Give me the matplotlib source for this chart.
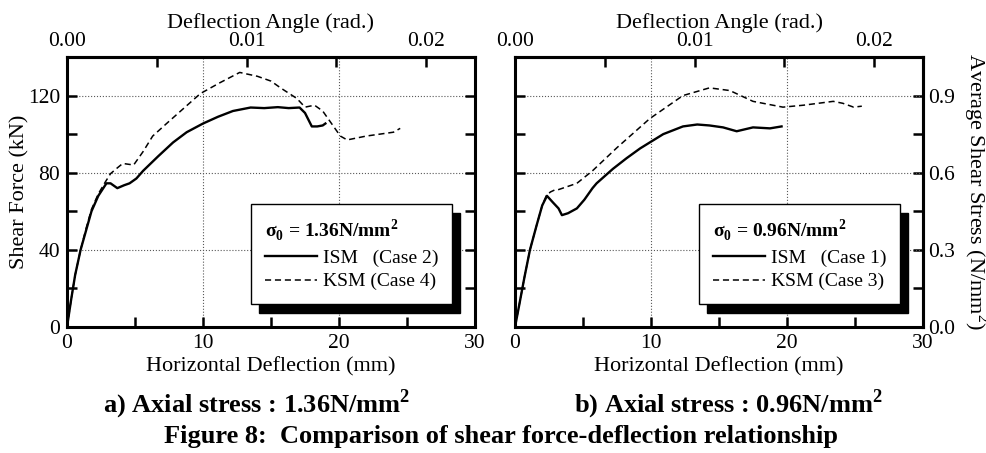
import matplotlib
matplotlib.use("Agg")
import matplotlib.pyplot as plt
from matplotlib.ticker import MultipleLocator, FormatStrFormatter, FixedLocator

plt.rcParams['font.family'] = ['Liberation Serif', 'DejaVu Serif']
plt.rcParams['mathtext.fontset'] = 'custom'
plt.rcParams['mathtext.rm'] = 'Liberation Serif'
plt.rcParams['mathtext.bf'] = 'Liberation Serif:bold'

H = 1320.0       # wall height (mm) -> deflection angle
A_FACTOR = 0.0075  # kN -> N/mm2

# a) axial stress 1.36 N/mm2
a_ism_x = [0, 0.3, 0.6, 1.0, 1.4, 1.8, 2.3, 2.9, 3.2, 3.7, 4.2, 4.6, 5.1, 5.6, 6.7, 7.8, 8.8, 10.0,
           11.1, 12.2, 13.5, 14.5, 15.5, 16.3, 17.1, 17.5, 18.0, 18.4, 18.8, 19.0]
a_ism_y = [0, 14, 27, 40, 50, 60, 68, 74.5, 74.5, 72, 73.5, 74.5, 77, 81, 88.5, 95.7, 101, 105.5,
           109, 112, 113.8, 113.5, 114, 113.5, 113.8, 111, 104, 104, 104.5, 105.5]
a_ksm_x = [0, 0.3, 0.6, 1.0, 1.4, 1.8, 2.3, 2.8, 3.2, 3.7, 4.1, 4.9, 5.6, 6.3, 7.4, 8.6, 9.8,
           11.2, 12.7, 14.0, 15.0, 15.7, 16.9, 17.5, 18.2, 18.8, 19.5, 20.1, 20.6, 22.0, 24.0, 24.5]
a_ksm_y = [0, 14, 27, 40, 51, 61, 69, 75, 79.5, 82.5, 84.8, 84, 91, 99, 106, 113.5, 121,
           126.5, 132, 130, 127.5, 124, 118.5, 114, 115, 112, 105, 99, 97, 99, 101, 103]

# b) axial stress 0.96 N/mm2
b_ism_x = [0, 0.3, 0.7, 1.1, 1.6, 2.0, 2.35, 2.8, 3.2, 3.45, 3.9, 4.55, 5.1, 5.7, 6.0, 7.2, 8.2, 9.2,
           10.9, 12.35, 13.4, 14.3, 15.3, 16.3, 17.5, 18.75, 19.6]
b_ism_y = [0, 11, 26, 40, 53, 63, 68, 64.5, 61.5, 58, 59, 61.5, 66, 72, 74.5, 82, 87.5, 92.6,
           100, 104, 105, 104.5, 103.5, 101.5, 103.5, 103, 104]
b_ksm_x = [0, 0.3, 0.7, 1.1, 1.6, 2.0, 2.3, 2.6, 2.9, 3.1, 4.55, 5.7, 7.5, 9.9, 12.35, 14.3,
           15.8, 17.5, 19.7, 21.2, 23.4, 24.1, 24.9, 25.5]
b_ksm_y = [0, 11, 26, 40, 53, 63, 68, 70, 71, 71, 74.5, 81, 93, 108, 120, 124,
           122.6, 117, 114, 115, 117, 116, 114, 114.5]

panels = [
    (a_ism_x, a_ism_y, a_ksm_x, a_ksm_y, "1.36", "ISM   (Case 2)", "KSM (Case 4)"),
    (b_ism_x, b_ism_y, b_ksm_x, b_ksm_y, "0.96", "ISM   (Case 1)", "KSM (Case 3)"),
]

fig = plt.figure(figsize=(9.87, 4.53), dpi=100)
ax_l = fig.add_axes([67/987, 1-327/453, 408/987, 270/453])
ax_r = fig.add_axes([515/987, 1-327/453, 408/987, 270/453])

FS = 16     # axis labels
TS = 15.5   # tick labels
LS = 14     # legend
for i, (ax, p) in enumerate(zip([ax_l, ax_r], panels)):
    xi, yi, xk, yk, sig, lab1, lab2 = p
    ax.plot(xi, yi, color='k', lw=1.7, label=lab1)
    ax.plot(xk, yk, color='k', lw=1.1, ls=(0, (4, 2.5)), label=lab2)
    ax.set_xlim(0, 30)
    ax.set_ylim(0, 140)
    for s in ax.spines.values():
        s.set_linewidth(2.2)
    ax.xaxis.set_major_locator(MultipleLocator(10))
    ax.xaxis.set_minor_locator(MultipleLocator(5))
    ax.yaxis.set_major_locator(MultipleLocator(40))
    ax.yaxis.set_minor_locator(MultipleLocator(20))
    ax.tick_params(which='both', direction='in', length=7, width=1.8, top=False,
                   right=(i == 0), labelsize=TS, pad=5)
    ax.grid(True, which='major', ls=':', color='0.35', lw=0.8)
    ax.set_xlabel("Horizontal Deflection (mm)", fontsize=FS)
    ax.xaxis.set_label_coords(0.5, -0.113)
    if i == 1:
        ax.tick_params(labelleft=False)

    sec = ax.secondary_xaxis('top', functions=(lambda x: x/H, lambda a: a*H))
    sec.xaxis.set_major_locator(FixedLocator([0, 0.01, 0.02]))
    sec.xaxis.set_minor_locator(FixedLocator([0.005, 0.015]))
    sec.xaxis.set_major_formatter(FormatStrFormatter('%.2f'))
    sec.tick_params(which='both', direction='in', length=7, width=1.8, labelsize=TS, pad=4)
    sec.spines['top'].set_linewidth(2.2)
    sec.set_xlabel("Deflection Angle (rad.)", fontsize=FS, labelpad=3)

    title = r"σ$_\mathbf{0}$ = " + sig + r"N/mm$^\mathbf{2}$"
    leg = ax.legend(loc='lower right', bbox_to_anchor=(0.944, 0.085), title=title,
                    title_fontproperties={'weight': 'bold', 'size': LS},
                    alignment='left', fontsize=LS, frameon=True, fancybox=False,
                    edgecolor='k', framealpha=1, handlelength=2.7, handletextpad=0.3,
                    borderpad=0.7, labelspacing=0.3, borderaxespad=0,
                    shadow={'color': 'k', 'alpha': 1, 'ox': 6, 'oy': -6.5})
    leg.get_frame().set_linewidth(1.0)

ax_l.set_ylabel("Shear Force (kN)", fontsize=FS)
ax_l.yaxis.set_label_coords(-0.093, 0.5)

sec_y = ax_r.secondary_yaxis('right', functions=(lambda f: f*A_FACTOR, lambda s: s/A_FACTOR))
sec_y.yaxis.set_major_locator(FixedLocator([0, 0.3, 0.6, 0.9]))
sec_y.yaxis.set_minor_locator(FixedLocator([0.15, 0.45, 0.75]))
sec_y.yaxis.set_major_formatter(FormatStrFormatter('%.1f'))
sec_y.tick_params(which='both', direction='in', length=7, width=1.8, labelsize=TS, pad=4)
sec_y.spines['right'].set_linewidth(2.2)
sec_y.set_ylabel(r"Average Shear Stress (N/mm$^2$)", fontsize=FS, rotation=270,
                 va='bottom', labelpad=4)

fig.text(257/987, 1-404/453, r"a) Axial stress : 1.36N/mm$^\mathbf{2}$", fontsize=19,
         fontweight='bold', ha='center', va='center')
fig.text(728/987, 1-404/453, r"b) Axial stress : 0.96N/mm$^\mathbf{2}$", fontsize=19,
         fontweight='bold', ha='center', va='center')
fig.text(501/987, 1-436/453, "Figure 8:  Comparison of shear force-deflection relationship",
         fontsize=19, fontweight='bold', ha='center', va='center')

fig.savefig("out.png", dpi=100)
